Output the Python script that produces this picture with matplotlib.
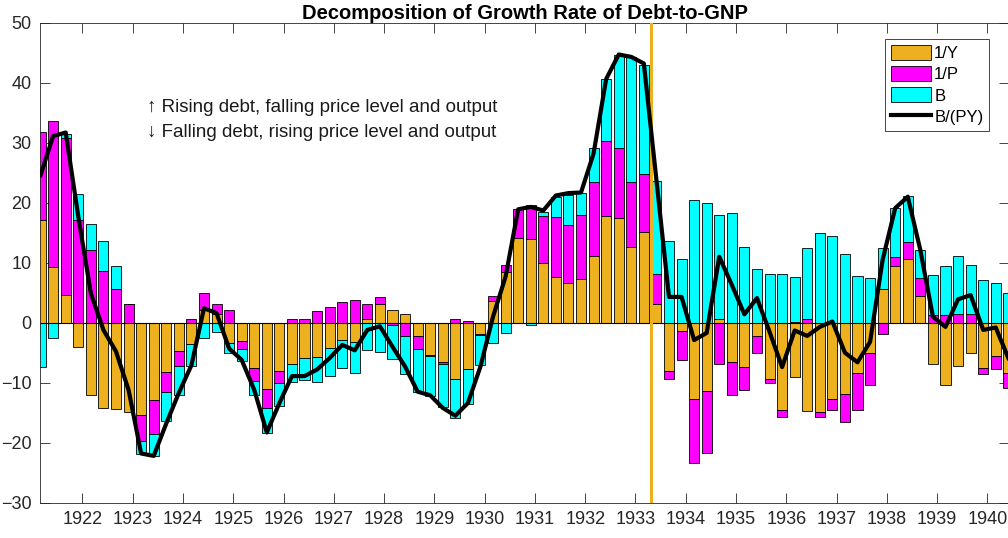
import numpy as np
import pandas as pd
import matplotlib
matplotlib.use("Agg")
import matplotlib.pyplot as plt

plt.rcParams['font.family'] = ['Liberation Sans', 'DejaVu Sans']

# quarterly observations, 1921Q1 .. 1940Q2
quarters = pd.period_range('1921Q1', '1940Q2', freq='Q')

inv_Y = [17.1, 9.3, 4.7, -4.1, -12.1, -14.2, -14.3, -14.8, -15.3, -12.9, -8.2, -4.7, -3.6,
         2.1, 1.4, -3.4, -3.0, -7.5, -11.1, -8.1, -6.8, -5.8, -5.7, -4.2, -2.9, -3.2,
         0.7, 3.2, 2.1, 1.4, -2.2, -5.3, -6.5, -9.4, -7.7, -1.8, 3.7, 8.4, 14.1,
         13.9, 10.0, 7.7, 6.7, 7.3, 11.2, 17.8, 17.4, 12.7, 15.1, 3.1, -8.1, -1.3,
         -12.7, -11.3, 0.6, -6.6, -7.4, -2.2, -9.3, -14.6, -9.0, -14.7, -14.8, -12.7,
         -11.9, -8.3, -5.0, 5.6, 9.5, 10.6, 4.4, -6.9, -10.3, -7.2, -5.1, -7.5, -5.6, -8.4]
inv_P = [14.7, 24.3, 26.1, 17.2, 12.1, 8.6, 5.7, 3.1, -4.4, -5.7, -3.4, -2.5, 0.6,
         2.9, 1.7, 2.1, -1.3, -2.2, -3.1, -1.9, 0.7, 0.6, 1.9, 2.6, 3.5, 3.8,
         2.5, 1.1, -0.3, -2.2, -2.2, -0.3, -0.3, 0.6, 0.3, -0.2, 0.8, 1.3, 4.8,
         5.8, 7.8, 9.9, 9.6, 10.7, 12.2, 12.5, 11.7, 10.8, 9.7, 5.1, -1.2, -4.9,
         -10.7, -10.4, -6.9, -5.4, -3.8, -2.8, -0.8, -1.1, 0.2, 0.7, -0.9, -1.8,
         -4.7, -6.2, -5.4, -1.9, 1.5, 2.8, 3.1, 1.3, 1.3, 1.4, 1.4, -1.1, -2.1, -2.5]
B = [-7.3, -2.6, 0.7, 4.2, 4.3, 5.1, 3.8, 0.0, -2.2, -3.6, -4.8, -4.8, -3.6,
     -2.6, -1.5, -1.7, -2.1, -2.4, -4.1, -3.8, -3.1, -3.7, -4.2, -4.6, -4.6, -5.2,
     -4.6, -4.8, -5.8, -6.3, -7.1, -6.6, -7.3, -6.4, -5.9, -5.0, -3.3, -1.7, 0.0,
     -0.4, 0.7, 3.3, 5.0, 3.6, 5.8, 10.4, 15.6, 20.8, 18.2, 15.4, 13.7, 10.7,
     20.4, 20.0, 17.3, 18.3, 12.7, 8.9, 8.1, 8.2, 7.4, 11.8, 14.9, 14.5,
     11.4, 7.8, 7.5, 6.8, 8.2, 7.7, 4.7, 6.7, 8.2, 9.7, 8.3, 7.2, 6.7, 4.9]
B_PY = [24.6, 31.1, 31.7, 17.7, 4.9, -1.2, -4.8, -11.2, -21.8, -22.2, -16.8, -11.7, -7.1,
        2.4, 1.6, -4.3, -6.2, -11.2, -18.3, -13.4, -8.9, -8.9, -7.8, -5.9, -3.7, -4.6,
        -1.2, -0.6, -4.0, -7.3, -11.5, -12.1, -14.2, -15.5, -13.4, -7.3, 1.0, 7.7, 18.9,
        19.3, 18.7, 21.2, 21.6, 21.7, 28.2, 40.6, 44.7, 44.3, 43.2, 23.8, 4.3, 4.3,
        -2.9, -1.7, 11.0, 6.3, 1.4, 4.1, -1.5, -7.4, -1.3, -2.2, -0.7, 0.2,
        -5.0, -6.6, -3.2, 10.5, 19.1, 21.0, 12.1, 1.0, -0.7, 3.9, 4.6, -1.2, -0.8, -5.9]

labels = ['1/Y', '1/P', 'B']
colors = ['#EDB120', '#FF00FF', '#00FFFF']
gold_exit = 1933.3  # April 1933

# bar dates as decimal years (first day of last month of each quarter)
x = np.array([q.year + (3 * q.quarter - 1) / 12 for q in quarters])

fig = plt.figure(figsize=(10.08, 5.38), dpi=100)
ax = fig.add_axes([40 / 1008, 35.3 / 538, 969 / 1008, 480 / 538])

handles = []
pos_base = np.zeros(len(x))
neg_base = np.zeros(len(x))
for vals, lab, col in zip([inv_Y, inv_P, B], labels, colors):
    v = np.array(vals)
    base = np.where(v >= 0, pos_base, neg_base)
    h = ax.bar(x, v, width=0.2, bottom=base, color=col, edgecolor='k', linewidth=0.6,
               label=lab, zorder=2)
    handles.append(h)
    pos_base += np.clip(v, 0, None)
    neg_base += np.clip(v, None, 0)

ax.axhline(0, color='k', lw=0.8, zorder=2.5)
ax.axvline(gold_exit, color='#EDB120', lw=2.2, zorder=3)
ln, = ax.plot(x, B_PY, color='k', lw=3, label='B/(PY)', zorder=4)
handles.append(ln)

ax.set_xlim(1921.155, 1940.43)
ax.set_ylim(-30, 50)
ax.set_xticks(range(1922, 1941))
ax.set_yticks(range(-30, 51, 10))
ax.tick_params(direction='in', length=7, width=0.6, top=True, right=True,
               labelsize=13, colors='#262626', pad=6)
for s in ax.spines.values():
    s.set_color('#262626')
    s.set_linewidth(0.6)

ax.set_title('Decomposition of Growth Rate of Debt-to-GNP', fontsize=14.5,
             fontweight='bold', pad=3)

ax.text(0.110, 0.824, '\u2191 Rising debt, falling price level and output',
        transform=ax.transAxes, fontsize=13.5, va='center', color='#1a1a1a')
ax.text(0.110, 0.772, '\u2193 Falling debt, rising price level and output',
        transform=ax.transAxes, fontsize=13.5, va='center', color='#1a1a1a')

leg = ax.legend(handles=handles, loc='upper right',
                bbox_to_anchor=(989.3 / 1008, (538 - 39.3) / 538),
                bbox_transform=fig.transFigure, fontsize=12, fancybox=False,
                framealpha=1, edgecolor='#262626', borderaxespad=0,
                handlelength=2.4, handleheight=1.0, handletextpad=0.2,
                labelspacing=0.3, borderpad=0.35)
leg.get_frame().set_linewidth(0.6)

fig.savefig('out.png', dpi=100)
